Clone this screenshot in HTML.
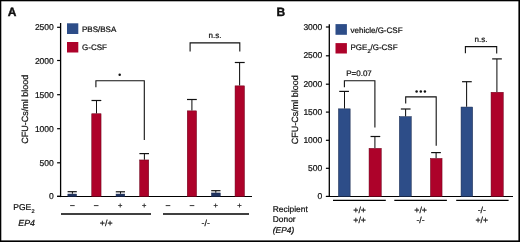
<!DOCTYPE html>
<html><head><meta charset="utf-8"><style>
html,body{margin:0;padding:0;background:#fff;}
#f{position:relative;width:520px;height:242px;overflow:hidden;background:#fff;}
#f svg{position:absolute;left:0;top:0;will-change:transform;filter:blur(0.35px);}
text{font-family:"Liberation Sans", sans-serif;fill:#111;stroke:#111;stroke-width:0.22px;text-rendering:geometricPrecision;}
</style></head><body><div id="f">
<svg width="520" height="242" viewBox="0 0 520 242">
<text transform="translate(7.7,15.8) scale(1,1.0)" font-size="12" text-anchor="start" font-weight="bold" style="stroke-width:0.4px">A</text>
<line x1="60.6" y1="23" x2="60.6" y2="197.1" stroke="#000" stroke-width="1.3"/>
<line x1="57.1" y1="196.2" x2="60.6" y2="196.2" stroke="#000" stroke-width="1.2"/>
<text transform="translate(53.8,198.8) scale(1,1.0)" font-size="8.5" text-anchor="end" >0</text>
<line x1="57.1" y1="162.8" x2="60.6" y2="162.8" stroke="#000" stroke-width="1.2"/>
<text transform="translate(53.8,165.8) scale(1,1.0)" font-size="8.5" text-anchor="end" >500</text>
<line x1="57.1" y1="128.7" x2="60.6" y2="128.7" stroke="#000" stroke-width="1.2"/>
<text transform="translate(53.8,131.7) scale(1,1.0)" font-size="8.5" text-anchor="end" >1000</text>
<line x1="57.1" y1="94.7" x2="60.6" y2="94.7" stroke="#000" stroke-width="1.2"/>
<text transform="translate(53.8,97.7) scale(1,1.0)" font-size="8.5" text-anchor="end" >1500</text>
<line x1="57.1" y1="60.5" x2="60.6" y2="60.5" stroke="#000" stroke-width="1.2"/>
<text transform="translate(53.8,63.5) scale(1,1.0)" font-size="8.5" text-anchor="end" >2000</text>
<line x1="57.1" y1="27.3" x2="60.6" y2="27.3" stroke="#000" stroke-width="1.2"/>
<text transform="translate(53.8,30.3) scale(1,1.0)" font-size="8.5" text-anchor="end" >2500</text>
<line x1="57.1" y1="196.5" x2="252" y2="196.5" stroke="#000" stroke-width="1.15"/>
<text transform="translate(28.2,109.3) rotate(-90) scale(1,1.0)" font-size="9" text-anchor="middle">CFU-Cs/ml blood</text>
<rect x="67" y="23.3" width="11.3" height="10.7" fill="#2d4d88"/>
<rect x="67" y="42" width="11.3" height="10.5" fill="#ad022a"/>
<text transform="translate(82,31.8) scale(1,1.0)" font-size="8" text-anchor="start" >PBS/BSA</text>
<text transform="translate(82,50.2) scale(1,1.0)" font-size="8" text-anchor="start" >G-CSF</text>
<line x1="72.4" y1="191.7" x2="72.4" y2="193.8" stroke="#111" stroke-width="1.05"/>
<line x1="67.6" y1="191.7" x2="76.8" y2="191.7" stroke="#111" stroke-width="1.2"/>
<rect x="67.85" y="194.05" width="8.7" height="2.45" fill="#1f3260" stroke="#17264a" stroke-width="0.5"/>
<line x1="96.5" y1="100.5" x2="96.5" y2="113.5" stroke="#111" stroke-width="1.05"/>
<line x1="91.5" y1="100.5" x2="101.3" y2="100.5" stroke="#111" stroke-width="1.2"/>
<rect x="91.75" y="113.75" width="9.3" height="82.75" fill="#ad022a" stroke="#6a0018" stroke-width="0.5"/>
<line x1="120.5" y1="191.8" x2="120.5" y2="193.8" stroke="#111" stroke-width="1.05"/>
<line x1="115.8" y1="191.8" x2="125.0" y2="191.8" stroke="#111" stroke-width="1.2"/>
<rect x="116.05" y="194.05" width="8.7" height="2.45" fill="#1f3260" stroke="#17264a" stroke-width="0.5"/>
<line x1="144.4" y1="153.6" x2="144.4" y2="159.7" stroke="#111" stroke-width="1.05"/>
<line x1="139.4" y1="153.6" x2="149.0" y2="153.6" stroke="#111" stroke-width="1.2"/>
<rect x="139.65" y="159.95" width="9.1" height="36.55" fill="#ad022a" stroke="#6a0018" stroke-width="0.5"/>
<line x1="191.9" y1="99.5" x2="191.9" y2="110.6" stroke="#111" stroke-width="1.05"/>
<line x1="187.0" y1="99.5" x2="196.8" y2="99.5" stroke="#111" stroke-width="1.2"/>
<rect x="187.25" y="110.85" width="9.3" height="85.65" fill="#ad022a" stroke="#6a0018" stroke-width="0.5"/>
<line x1="215.8" y1="190.7" x2="215.8" y2="192.7" stroke="#111" stroke-width="1.05"/>
<line x1="211.2" y1="190.7" x2="220.5" y2="190.7" stroke="#111" stroke-width="1.2"/>
<rect x="211.45" y="192.95" width="8.8" height="3.55" fill="#1f3260" stroke="#17264a" stroke-width="0.5"/>
<line x1="239.6" y1="62.5" x2="239.6" y2="85.6" stroke="#111" stroke-width="1.05"/>
<line x1="234.8" y1="62.5" x2="244.7" y2="62.5" stroke="#111" stroke-width="1.2"/>
<rect x="235.05" y="85.85" width="9.4" height="110.65" fill="#ad022a" stroke="#6a0018" stroke-width="0.5"/>
<polyline points="95.9,87.3 95.9,80.7 144.3,80.7 144.3,140.1" fill="none" stroke="#111" stroke-width="1.1"/>
<circle cx="119.7" cy="74.8" r="1.25" fill="#111"/>
<polyline points="190.1,51.6 190.1,42.9 239.8,42.9 239.8,51.6" fill="none" stroke="#111" stroke-width="1.1"/>
<text transform="translate(215,37.8) scale(1,1.0)" font-size="8" text-anchor="middle" >n.s.</text>
<text transform="translate(31.2,209.8) scale(1,1.0)" font-size="8.5" text-anchor="end" >PGE</text>
<text transform="translate(31.4,212.7) scale(1,1.0)" font-size="5.5" text-anchor="start" >2</text>
<line x1="70.1" y1="205.6" x2="74.7" y2="205.6" stroke="#2a2a2a" stroke-width="0.95"/>
<line x1="93.9" y1="205.6" x2="98.5" y2="205.6" stroke="#2a2a2a" stroke-width="0.95"/>
<text transform="translate(120.1,208.1) scale(1,1.0)" font-size="7.5" text-anchor="middle" >+</text>
<text transform="translate(144.2,208.1) scale(1,1.0)" font-size="7.5" text-anchor="middle" >+</text>
<line x1="165.7" y1="205.6" x2="170.3" y2="205.6" stroke="#2a2a2a" stroke-width="0.95"/>
<line x1="189.7" y1="205.6" x2="194.3" y2="205.6" stroke="#2a2a2a" stroke-width="0.95"/>
<text transform="translate(215.8,208.1) scale(1,1.0)" font-size="7.5" text-anchor="middle" >+</text>
<text transform="translate(239.5,208.1) scale(1,1.0)" font-size="7.5" text-anchor="middle" >+</text>
<text transform="translate(35,225.5) scale(1,1.0)" font-size="8.8" text-anchor="end" font-style="italic">EP4</text>
<line x1="61" y1="214" x2="151" y2="214" stroke="#000" stroke-width="1.3"/>
<line x1="163" y1="214" x2="249" y2="214" stroke="#000" stroke-width="1.3"/>
<text transform="translate(106.2,226.2) scale(1,1.0)" font-size="8.8" text-anchor="middle" >+/+</text>
<text transform="translate(205.7,226.4) scale(1,1.0)" font-size="8.8" text-anchor="middle" >-/-</text>
<text transform="translate(276.6,16.0) scale(1,1.0)" font-size="12" text-anchor="start" font-weight="bold" style="stroke-width:0.4px">B</text>
<line x1="329.3" y1="24.3" x2="329.3" y2="197.1" stroke="#000" stroke-width="1.3"/>
<line x1="325.9" y1="196.4" x2="329.3" y2="196.4" stroke="#000" stroke-width="1.2"/>
<text transform="translate(322.3,199.0) scale(1,1.0)" font-size="8.5" text-anchor="end" >0</text>
<line x1="325.9" y1="168.3" x2="329.3" y2="168.3" stroke="#000" stroke-width="1.2"/>
<text transform="translate(322.3,170.9) scale(1,1.0)" font-size="8.5" text-anchor="end" >500</text>
<line x1="325.9" y1="140.3" x2="329.3" y2="140.3" stroke="#000" stroke-width="1.2"/>
<text transform="translate(322.3,142.9) scale(1,1.0)" font-size="8.5" text-anchor="end" >1000</text>
<line x1="325.9" y1="112.1" x2="329.3" y2="112.1" stroke="#000" stroke-width="1.2"/>
<text transform="translate(322.3,114.7) scale(1,1.0)" font-size="8.5" text-anchor="end" >1500</text>
<line x1="325.9" y1="84.2" x2="329.3" y2="84.2" stroke="#000" stroke-width="1.2"/>
<text transform="translate(322.3,86.8) scale(1,1.0)" font-size="8.5" text-anchor="end" >2000</text>
<line x1="325.9" y1="55.8" x2="329.3" y2="55.8" stroke="#000" stroke-width="1.2"/>
<text transform="translate(322.3,58.4) scale(1,1.0)" font-size="8.5" text-anchor="end" >2500</text>
<line x1="325.9" y1="27.0" x2="329.3" y2="27.0" stroke="#000" stroke-width="1.2"/>
<text transform="translate(322.3,29.6) scale(1,1.0)" font-size="8.5" text-anchor="end" >3000</text>
<line x1="325.9" y1="196.5" x2="513" y2="196.5" stroke="#000" stroke-width="1.15"/>
<text transform="translate(297.8,109.7) rotate(-90) scale(1,1.0)" font-size="9" text-anchor="middle">CFU-Cs/ml blood</text>
<rect x="335.5" y="24.1" width="11.4" height="10.7" fill="#2d4d88"/>
<rect x="335.5" y="43.1" width="11.4" height="10.4" fill="#ad022a"/>
<text transform="translate(350.5,32.7) scale(1,1.0)" font-size="8" text-anchor="start" >vehicle/G-CSF</text>
<text transform="translate(350.5,50.3) scale(1,1.0)" font-size="8">PGE<tspan font-size="5.5" dy="2.6">2</tspan><tspan dy="-2.6">/G-CSF</tspan></text>
<line x1="344.5" y1="91.4" x2="344.5" y2="108.6" stroke="#111" stroke-width="1.05"/>
<line x1="339.25" y1="91.4" x2="348.95" y2="91.4" stroke="#111" stroke-width="1.2"/>
<rect x="338.45" y="108.85" width="11.7" height="87.65" fill="#2d4d88" stroke="#17264a" stroke-width="0.5"/>
<line x1="374.9" y1="136.5" x2="374.9" y2="148.1" stroke="#111" stroke-width="1.05"/>
<line x1="370.55" y1="136.5" x2="380.25" y2="136.5" stroke="#111" stroke-width="1.2"/>
<rect x="369.05" y="148.35" width="12.2" height="48.15" fill="#ad022a" stroke="#6a0018" stroke-width="0.5"/>
<line x1="405.6" y1="109.0" x2="405.6" y2="116.4" stroke="#111" stroke-width="1.05"/>
<line x1="400.85" y1="109.0" x2="410.55" y2="109.0" stroke="#111" stroke-width="1.2"/>
<rect x="399.35" y="116.65" width="11.9" height="79.85" fill="#2d4d88" stroke="#17264a" stroke-width="0.5"/>
<line x1="436.1" y1="152.6" x2="436.1" y2="158.2" stroke="#111" stroke-width="1.05"/>
<line x1="431.15" y1="152.6" x2="440.85" y2="152.6" stroke="#111" stroke-width="1.2"/>
<rect x="430.45" y="158.45" width="11.6" height="38.05" fill="#ad022a" stroke="#6a0018" stroke-width="0.5"/>
<line x1="466.6" y1="81.7" x2="466.6" y2="106.8" stroke="#111" stroke-width="1.05"/>
<line x1="462.05" y1="81.7" x2="471.75" y2="81.7" stroke="#111" stroke-width="1.2"/>
<rect x="461.05" y="107.05" width="11.6" height="89.45" fill="#2d4d88" stroke="#17264a" stroke-width="0.5"/>
<line x1="496.9" y1="58.9" x2="496.9" y2="92.0" stroke="#111" stroke-width="1.05"/>
<line x1="492.15" y1="58.9" x2="501.85" y2="58.9" stroke="#111" stroke-width="1.2"/>
<rect x="491.05" y="92.25" width="12.2" height="104.25" fill="#ad022a" stroke="#6a0018" stroke-width="0.5"/>
<polyline points="344.4,87.3 344.4,80.7 374.9,80.7 374.9,127.4" fill="none" stroke="#111" stroke-width="1.1"/>
<text transform="translate(359.0,76.1) scale(1,1.0)" font-size="8" text-anchor="middle" >P=0.07</text>
<polyline points="405.7,103.5 405.7,96.9 436.2,96.9 436.2,145.7" fill="none" stroke="#111" stroke-width="1.1"/>
<circle cx="416.6" cy="91.4" r="1.25" fill="#111"/>
<circle cx="420.8" cy="91.4" r="1.25" fill="#111"/>
<circle cx="424.9" cy="91.4" r="1.25" fill="#111"/>
<polyline points="465.4,53.2 465.4,46.6 496.7,46.6 496.7,53.4" fill="none" stroke="#111" stroke-width="1.1"/>
<text transform="translate(481,41.8) scale(1,1.0)" font-size="8" text-anchor="middle" >n.s.</text>
<text transform="translate(272.8,211.5) scale(1,1.0)" font-size="8.4" text-anchor="start" >Recipient</text>
<text transform="translate(272.8,221.8) scale(1,1.0)" font-size="8.4" text-anchor="start" >Donor</text>
<text transform="translate(272.8,232.6) scale(1,1.0)" font-size="8.4" text-anchor="start" font-style="italic">(EP4)</text>
<line x1="333" y1="200.4" x2="385.8" y2="200.4" stroke="#000" stroke-width="1.3"/>
<line x1="394.3" y1="200.4" x2="446.9" y2="200.4" stroke="#000" stroke-width="1.3"/>
<line x1="456.2" y1="200.4" x2="508.6" y2="200.4" stroke="#000" stroke-width="1.3"/>
<text transform="translate(359.6,212.6) scale(1,1.0)" font-size="8.8" text-anchor="middle" >+/+</text>
<text transform="translate(359.6,223.1) scale(1,1.0)" font-size="8.8" text-anchor="middle" >+/+</text>
<text transform="translate(420.6,212.6) scale(1,1.0)" font-size="8.8" text-anchor="middle" >+/+</text>
<text transform="translate(420.6,223.1) scale(1,1.0)" font-size="8.8" text-anchor="middle" >-/-</text>
<text transform="translate(481.8,212.6) scale(1,1.0)" font-size="8.8" text-anchor="middle" >-/-</text>
<text transform="translate(481.8,223.1) scale(1,1.0)" font-size="8.8" text-anchor="middle" >+/+</text>
</svg><svg style="position:absolute;left:0;top:0" width="520" height="242" viewBox="0 0 520 242"><rect x="0" y="0" width="1.3" height="242" fill="#000"/><rect x="0" y="0" width="520" height="1.3" fill="#000"/><rect x="518.4" y="0" width="1.6" height="242" fill="#000"/><rect x="0" y="240.4" width="520" height="1.6" fill="#000"/></svg></div></body></html>
